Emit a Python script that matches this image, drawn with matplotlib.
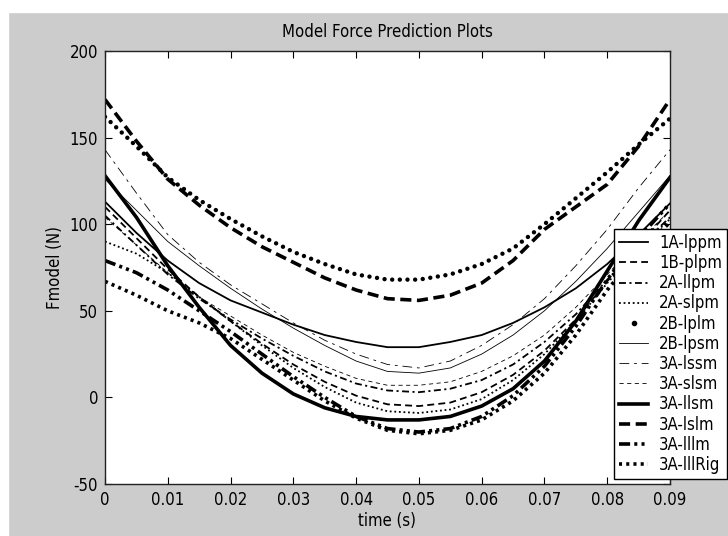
import matplotlib
matplotlib.use("Agg")
import matplotlib.pyplot as plt
from matplotlib.lines import Line2D
from matplotlib.patches import Rectangle

plt.rcParams['font.family'] = ['DejaVu Sans']
plt.rcParams['font.stretch'] = 'condensed'
plt.rcParams['axes.unicode_minus'] = False
plt.rcParams['lines.scale_dashes'] = False

# time axis (s)
t = [0, 0.005, 0.01, 0.015, 0.02, 0.025, 0.03, 0.035, 0.04, 0.045,
     0.05, 0.055, 0.06, 0.065, 0.07, 0.075, 0.08, 0.085, 0.09]

# model force (N)
f_1a_lppm = [113, 95, 79, 66, 56, 49, 42, 36, 32, 29, 29, 32, 36, 43, 52, 63, 77, 94, 112]
f_1b_plpm = [110, 92, 74, 58, 44, 31, 19, 9, 1, -4, -5, -3, 3, 13, 27, 45, 67, 88, 108]
f_2a_llpm = [105, 88, 71, 57, 45, 34, 24, 15, 8, 4, 3, 5, 10, 19, 32, 48, 68, 87, 104]
f_2a_slpm = [90, 83, 72, 58, 44, 30, 17, 6, -3, -8, -9, -7, -1, 10, 25, 44, 66, 86, 103]
f_2b_lplm = [162, 145, 127, 114, 103, 93, 84, 77, 71, 68, 68, 71, 77, 86, 100, 115, 130, 146, 161]
f_2b_lpsm = [126, 108, 90, 76, 63, 51, 40, 30, 21, 15, 14, 17, 25, 36, 50, 67, 86, 107, 128]
f_3a_lssm = [143, 118, 94, 78, 65, 54, 43, 33, 25, 19, 17, 21, 30, 42, 57, 76, 97, 121, 143]
f_3a_slsm = [104, 88, 72, 58, 47, 36, 26, 18, 11, 7, 7, 9, 15, 24, 36, 52, 71, 90, 108]
f_3a_llsm = [128, 104, 76, 52, 30, 14, 2, -6, -11, -13, -13, -11, -5, 5, 21, 44, 73, 102, 127]
f_3a_lslm = [172, 148, 126, 111, 98, 87, 78, 69, 62, 57, 56, 59, 66, 79, 97, 110, 123, 145, 172]
f_3a_lllm = [79, 72, 62, 50, 38, 25, 12, 0, -11, -18, -20, -18, -11, 1, 18, 41, 68, 92, 112]
f_3a_lllrig = [67, 59, 50, 43, 34, 22, 10, -2, -12, -19, -21, -19, -13, -2, 14, 36, 62, 84, 101]

names = ['1A-lppm', '1B-plpm', '2A-llpm', '2A-slpm', '2B-lplm', '2B-lpsm',
         '3A-lssm', '3A-slsm', '3A-llsm', '3A-lslm', '3A-lllm', '3A-lllRig']
series = [f_1a_lppm, f_1b_plpm, f_2a_llpm, f_2a_slpm, f_2b_lplm, f_2b_lpsm,
          f_3a_lssm, f_3a_slsm, f_3a_llsm, f_3a_lslm, f_3a_lllm, f_3a_lllrig]

xticks = [0, 0.01, 0.02, 0.03, 0.04, 0.05, 0.06, 0.07, 0.08, 0.09]
xticklabels = ['0', '0.01', '0.02', '0.03', '0.04', '0.05', '0.06', '0.07', '0.08', '0.09']
yticks = [-50, 0, 50, 100, 150, 200]

# MATLAB-ish line styles (dash lengths in points)
styles = [
    dict(lw=1.3, ls='-'),
    dict(lw=1.3, ls=(0, (5, 3))),
    dict(lw=1.3, ls=(0, (5, 2.5, 1.5, 2.5))),
    dict(lw=1.3, ls=(0, (1.3, 2))),
    dict(lw=3.2, ls=(0, (0.01, 5.5)), dash_capstyle='round'),  # row of dots
    dict(lw=0.6, ls='-'),
    dict(lw=0.6, ls=(0, (7, 3.5, 2, 3.5))),
    dict(lw=0.6, ls=(0, (3, 2.5))),
    dict(lw=2.6, ls='-'),
    dict(lw=2.6, ls=(0, (8, 4))),
    dict(lw=2.6, ls=(0, (8, 3, 2.2, 3, 2.2, 3))),
    dict(lw=2.6, ls=(0, (2.2, 3))),
]

fig = plt.figure(figsize=(7.28, 5.36), dpi=100, facecolor='#cccccc')
# white margins of the screenshot
fig.add_artist(Rectangle((0, 1 - 12 / 536), 1, 12 / 536, transform=fig.transFigure,
                         color='white', zorder=0))
fig.add_artist(Rectangle((0, 0), 8 / 728, 1, transform=fig.transFigure,
                         color='white', zorder=0))

ax = fig.add_axes([105 / 728, 52 / 536, 565 / 728, 433 / 536])
ax.set_facecolor('white')

handles = []
for name, ys, st in zip(names, series, styles):
    ln, = ax.plot(t, ys, color='black', label=name, **st)
    handles.append(ln)
# legend shows a single dot for 2B-lplm
handles[4] = Line2D([], [], color='black', ls='none', marker='.', ms=6)

ax.set_xlim(0, 0.09)
ax.set_ylim(-50, 200)
ax.set_xticks(xticks)
ax.set_xticklabels(xticklabels)
ax.set_yticks(yticks)
ax.tick_params(direction='in', length=5, top=True, right=True, labelsize=12,
               pad=5, width=0.8)
for sp in ax.spines.values():
    sp.set_linewidth(1)
    sp.set_color('#222222')

ax.set_title('Model Force Prediction Plots', fontsize=12, pad=10)
ax.set_xlabel('time (s)', fontsize=12, labelpad=2)
ax.set_ylabel('Fmodel (N)', fontsize=12, labelpad=4)

leg = fig.legend(handles, names, loc='upper left',
                 bbox_to_anchor=(614 / 728, 1 - 229 / 536),
                 fontsize=12, frameon=True, fancybox=False, handlelength=1.75,
                 handletextpad=0.65, labelspacing=0.13, borderpad=0.3,
                 borderaxespad=0)
leg.get_frame().set_edgecolor('black')
leg.get_frame().set_linewidth(1)
leg.get_frame().set_facecolor('white')
leg.get_frame().set_alpha(1)

fig.savefig('out.png', dpi=100, facecolor=fig.get_facecolor())
